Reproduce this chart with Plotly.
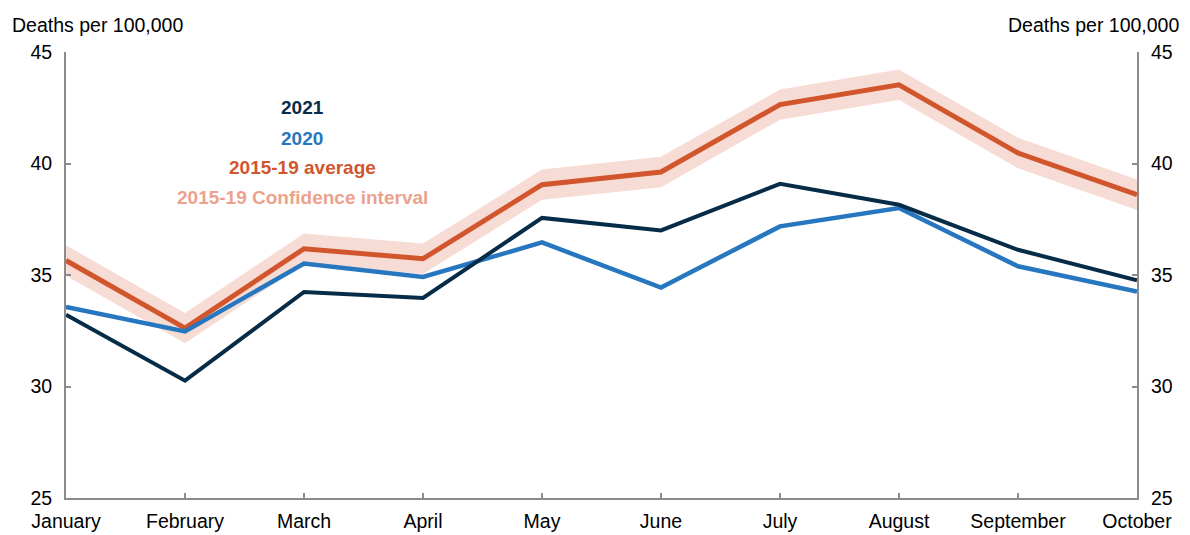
import plotly.graph_objects as go

months = ["January", "February", "March", "April", "May", "June",
          "July", "August", "September", "October"]
y2021 = [33.22, 30.26, 34.24, 33.97, 37.56, 37.00, 39.09, 38.15, 36.13, 34.76]
y2020 = [33.57, 32.47, 35.51, 34.91, 36.46, 34.44, 37.18, 38.00, 35.39, 34.26]
avg_1519 = [35.65, 32.62, 36.18, 35.73, 39.05, 39.62, 42.64, 43.53, 40.47, 38.60]
ci_upper = [36.33, 33.30, 36.86, 36.41, 39.73, 40.30, 43.32, 44.21, 41.15, 39.28]
ci_lower = [34.97, 31.94, 35.50, 35.05, 38.37, 38.94, 41.96, 42.85, 39.79, 37.92]
y_ticks = [25, 30, 35, 40, 45]

C_NAVY = "#062C48"
C_BLUE = "#2677BF"
C_ORANGE = "#D2562D"
C_BAND = "#F6DCD4"
C_BANDTXT = "#EBA28D"
AXC = "#8C8C8C"
FONT = "Liberation Sans, Arial, sans-serif"
FS = 19.5

x = list(range(len(months)))

fig = go.Figure()
fig.add_trace(go.Scatter(x=x, y=ci_upper, mode="lines", line=dict(width=0, color=C_BAND),
                         hoverinfo="skip", showlegend=False))
fig.add_trace(go.Scatter(x=x, y=ci_lower, mode="lines", line=dict(width=0, color=C_BAND),
                         fill="tonexty", fillcolor=C_BAND, showlegend=False))
fig.add_trace(go.Scatter(x=x, y=avg_1519, mode="lines", line=dict(width=5, color=C_ORANGE),
                         showlegend=False))
fig.add_trace(go.Scatter(x=x, y=y2020, mode="lines", line=dict(width=4.5, color=C_BLUE),
                         showlegend=False))
fig.add_trace(go.Scatter(x=x, y=y2021, mode="lines", line=dict(width=4, color=C_NAVY),
                         showlegend=False))
# invisible trace to activate right axis
fig.add_trace(go.Scatter(x=[0], y=[25], yaxis="y2", mode="markers",
                         marker=dict(opacity=0), showlegend=False, hoverinfo="skip"))

axis_common = dict(showline=True, linecolor=AXC, linewidth=2, ticks="inside",
                   ticklen=5, tickwidth=1.5, tickcolor=AXC, showgrid=False, zeroline=False,
                   automargin=False,
                   tickfont=dict(family=FONT, size=FS, color="#000"))

# page body has an 8px margin; figure sized to fill the rest of the 1190x535 window
fig.update_layout(
    width=1182, height=527,
    margin=dict(l=58, r=53, t=44, b=37),
    paper_bgcolor="white", plot_bgcolor="white",
    font=dict(family=FONT, size=FS, color="#000"),
    xaxis=dict(tickmode="array", tickvals=x, ticktext=months, range=[0, 9],
               ticklabelstandoff=5, **axis_common),
    yaxis=dict(range=[25, 45], tickvals=y_ticks, ticklabelstandoff=8, **axis_common),
    yaxis2=dict(range=[25, 45], tickvals=y_ticks, overlaying="y", side="right",
                ticklabelstandoff=8, **axis_common),
)


def px(xp):
    return (xp - 66) / (1137 - 66)


def py(yp):
    return (498 - yp) / (498 - 52)


fig.add_annotation(text="Deaths per 100,000", xref="paper", yref="paper",
                   x=px(10), y=py(25), xanchor="left", yanchor="middle", showarrow=False,
                   font=dict(family=FONT, size=FS, color="#000"))
fig.add_annotation(text="Deaths per 100,000", xref="paper", yref="paper",
                   x=px(1181), y=py(25), xanchor="right", yanchor="middle", showarrow=False,
                   font=dict(family=FONT, size=FS, color="#000"))

legend_items = [("2021", C_NAVY, 107), ("2020", C_BLUE, 138),
                ("2015-19 average", C_ORANGE, 167),
                ("2015-19 Confidence interval", C_BANDTXT, 197)]
for txt, col, yy in legend_items:
    fig.add_annotation(text="<b>" + txt + "</b>", xref="paper", yref="paper",
                       x=px(302), y=py(yy), xanchor="center", yanchor="middle",
                       showarrow=False, font=dict(family=FONT, size=19, color=col))

fig.write_html("out.html")
